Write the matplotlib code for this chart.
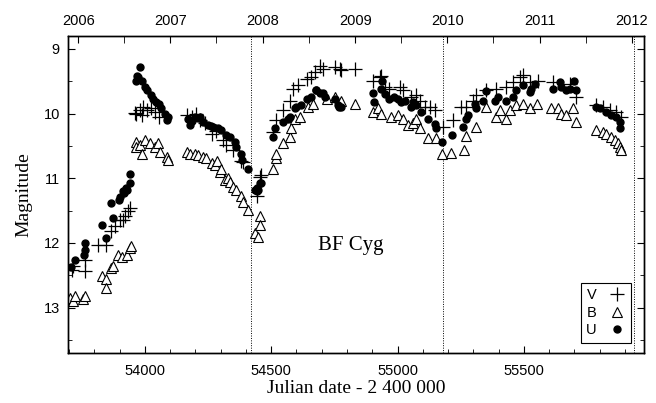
import matplotlib
matplotlib.use('Agg')
import matplotlib.pyplot as plt
from matplotlib.ticker import MultipleLocator, FixedLocator

# V band (+)
v_jd = [53710, 53716, 53763, 53763, 53815, 53848, 53868, 53881, 53901, 53914, 53921, 53934, 53941,
        53960, 53967, 53980, 53987, 53993, 54009, 54026, 54040, 54057,
        54165, 54185, 54204, 54220, 54240, 54264, 54280, 54310, 54323, 54349, 54382, 54388,
        54442, 54455, 54461,
        54508, 54521, 54547, 54574, 54587, 54606, 54640, 54659, 54672, 54692, 54705, 54752, 54771, 54775, 54830,
        54901, 54929, 54934, 54949, 54967, 55008, 55021, 55054, 55075, 55087, 55107, 55127, 55147, 55180, 55220,
        55252, 55272, 55299, 55312, 55351, 55391, 55431, 55457, 55484, 55497, 55523, 55556,
        55615, 55681, 55707,
        55787, 55813, 55839, 55866, 55885]
v_mag = [12.42, 12.35, 12.44, 12.27, 12.03, 12.03, 11.82, 11.74, 11.64, 11.64, 11.58, 11.51, 11.46,
         9.99, 10.0, 9.95, 10.03, 9.9, 9.95, 9.92, 9.97, 10.05,
         10.03, 10.05, 10.0, 10.1, 10.15, 10.31, 10.27, 10.41, 10.49, 10.56, 10.74, 10.75,
         11.28, 10.98, 10.95,
         10.28, 10.1, 9.95, 9.8, 9.62, 9.56, 9.46, 9.44, 9.36, 9.26, 9.31, 9.28, 9.31, 9.33, 9.31,
         9.49, 9.44, 9.42, 9.59, 9.62, 9.59, 9.64, 9.74, 9.72, 9.8, 9.9, 9.9, 9.95, 10.21, 10.1,
         9.9, 9.9, 9.8, 9.72, 9.64, 9.62, 9.59, 9.51, 9.44, 9.41, 9.51, 9.49,
         9.51, 9.54, 9.74,
         9.87, 9.9, 9.95, 9.98, 10.05]

# B band (open triangles)
b_jd = [53703, 53716, 53723, 53756, 53763, 53829, 53848, 53848, 53868, 53875, 53894, 53908, 53928, 53941, 53947,
        53967, 53967, 53980, 53987, 54000, 54020, 54040, 54053, 54059, 54086, 54092,
        54165, 54178, 54198, 54211, 54231, 54244, 54264, 54277, 54284, 54297, 54303, 54316, 54330, 54336,
        54349, 54362, 54382, 54389, 54409,
        54435, 54448, 54455, 54455,
        54508, 54521, 54521, 54547, 54574, 54580, 54593, 54613, 54646, 54666, 54719, 54752, 54778, 54830,
        54901, 54921, 54934, 54974, 55000, 55021, 55041, 55061, 55075, 55087, 55120, 55154, 55174, 55213, 55262,
        55272, 55312, 55351, 55391, 55404, 55431, 55444, 55470, 55497, 55523, 55550,
        55608, 55635, 55648, 55668, 55694, 55707,
        55787, 55813, 55826, 55846, 55859, 55872, 55879, 55885]
b_mag = [12.85, 12.9, 12.82, 12.87, 12.82, 12.51, 12.56, 12.69, 12.38, 12.35, 12.18, 12.21, 12.18, 12.08, 12.05,
         10.44, 10.52, 10.49, 10.62, 10.41, 10.46, 10.51, 10.46, 10.59, 10.67, 10.72,
         10.59, 10.62, 10.62, 10.64, 10.67, 10.69, 10.77, 10.8, 10.74, 10.9, 10.85, 11.03, 11.0, 11.05,
         11.13, 11.18, 11.28, 11.36, 11.49,
         11.85, 11.9, 11.59, 11.72,
         10.85, 10.69, 10.62, 10.46, 10.36, 10.23, 10.08, 10.05, 9.9, 9.85, 9.77, 9.74, 9.8, 9.85,
         9.98, 9.92, 10.0, 10.05, 10.03, 10.08, 10.18, 10.15, 10.08, 10.23, 10.38, 10.38, 10.62, 10.61, 10.56,
         10.35, 10.21, 9.9, 10.05, 9.95, 10.08, 9.95, 9.87, 9.85, 9.92, 9.85,
         9.92, 9.92, 10.0, 10.03, 9.92, 10.13,
         10.26, 10.28, 10.31, 10.36, 10.41, 10.46, 10.51, 10.56]

# U band (filled circles)
u_jd = [53707, 53723, 53760, 53762, 53763, 53831, 53848, 53866, 53875, 53898, 53901, 53914, 53918, 53924, 53928,
        53941, 53943,
        53967, 53970, 53974, 53980, 53987, 54000, 54007, 54024, 54033, 54046, 54055, 54066, 54079, 54088, 54092,
        54171, 54178, 54185, 54198, 54210, 54218, 54231, 54250, 54260, 54270, 54290, 54303, 54323, 54336, 54356,
        54362, 54382, 54386, 54409,
        54435, 54442, 54444, 54448, 54455, 54461,
        54508, 54514, 54547, 54567, 54574, 54593, 54600, 54620, 54640, 54659, 54676, 54679, 54692, 54705, 54712,
        54752, 54765, 54770, 54778,
        54901, 54907, 54934, 54938, 54950, 54967, 54985, 55000, 55015, 55030, 55054, 55061, 55075, 55094, 55120,
        55147, 55154, 55174, 55217,
        55259, 55272, 55279, 55305, 55312, 55338, 55351, 55384, 55398, 55431, 55457, 55470, 55497, 55523, 55530, 55543,
        55615, 55642, 55648, 55668, 55681, 55698, 55707,
        55787, 55800, 55826, 55846, 55866, 55879, 55879]
u_mag = [12.37, 12.27, 12.19, 12.11, 12.0, 11.72, 11.92, 11.38, 11.62, 11.34, 11.29, 11.2, 11.23, 11.15, 11.18,
         10.94, 11.07,
         9.49, 9.42, 9.44, 9.28, 9.49, 9.59, 9.64, 9.71, 9.77, 9.82, 9.85, 9.92, 10.0, 10.1, 10.05,
         10.08, 10.18, 10.12, 10.05, 10.07, 10.05, 10.13, 10.18, 10.2, 10.21, 10.23, 10.26, 10.33, 10.36, 10.44,
         10.51, 10.63, 10.72, 10.86,
         11.18, 11.2, 11.15, 11.18, 11.08, 11.08,
         10.36, 10.23, 10.13, 10.08, 10.05, 9.92, 9.9, 9.87, 9.78, 9.74, 9.63, 9.64, 9.69, 9.69, 9.74,
         9.77, 9.87, 9.9, 9.9,
         9.69, 9.82, 9.62, 9.49, 9.7, 9.77, 9.75, 9.77, 9.82, 9.8, 9.9, 9.82, 9.87, 9.98, 10.09,
         10.16, 10.22, 10.44, 10.33,
         10.21, 10.08, 10.03, 9.85, 9.92, 9.8, 9.65, 9.8, 9.74, 9.8, 9.74, 9.64, 9.56, 9.67, 9.62, 9.54,
         9.62, 9.51, 9.59, 9.64, 9.62, 9.5, 9.64,
         9.9, 9.92, 9.98, 10.03, 10.05, 10.13, 10.23]

minima = [54422, 55179, 55937]
years = [2006, 2007, 2008, 2009, 2010, 2011, 2012]
year_jd = [53736.5, 54101.5, 54466.5, 54832.5, 55197.5, 55562.5, 55927.5]
half_year_jd = [53918.5, 54283.5, 54648.5, 55014.5, 55379.5, 55744.5]

serif = 'Liberation Serif'
sans = 'Liberation Sans'

fig = plt.figure(figsize=(6.56, 4.03), dpi=100)
ax = fig.add_axes([0.104, 0.124, 0.878, 0.787])

for m in minima:
    ax.axvline(m, color='black', linestyle=(0, (1, 1.5)), linewidth=0.7, zorder=1)

ax.plot(b_jd, b_mag, linestyle='none', marker='^', markersize=7.5, markerfacecolor='white',
        markeredgecolor='black', markeredgewidth=0.8, label='B', zorder=2)
ax.plot(v_jd, v_mag, linestyle='none', marker='+', markersize=9.5, color='black',
        markeredgewidth=0.9, label='V', zorder=3)
ax.plot(u_jd, u_mag, linestyle='none', marker='o', markersize=5, color='black', label='U', zorder=4)

ax.set_xlim(53697, 55976)
ax.set_ylim(13.7, 8.8)
ax.xaxis.set_major_locator(MultipleLocator(500))
ax.xaxis.set_minor_locator(MultipleLocator(100))
ax.yaxis.set_major_locator(MultipleLocator(1))
ax.yaxis.set_minor_locator(MultipleLocator(0.5))
ax.tick_params(which='both', direction='in', top=False, right=True, labelsize=10.5)
ax.tick_params(which='major', length=5)
ax.tick_params(which='minor', length=3)
ax.tick_params(axis='x', pad=8)
ax.tick_params(axis='y', pad=6)
for lbl in ax.get_xticklabels() + ax.get_yticklabels():
    lbl.set_fontfamily(sans)

ax.set_xlabel('Julian date - 2 400 000', fontfamily=serif, fontsize=14, labelpad=1)
ax.set_ylabel('Magnitude', fontfamily=serif, fontsize=14, labelpad=8)
ax.text(0.49, 0.34, 'BF Cyg', transform=ax.transAxes, fontfamily=serif, fontsize=15,
        ha='center', va='center')

top = ax.twiny()
top.set_xlim(ax.get_xlim())
top.xaxis.set_major_locator(FixedLocator(year_jd))
top.xaxis.set_minor_locator(FixedLocator(half_year_jd))
top.set_xticklabels([str(y) for y in years], fontfamily=sans, fontsize=10.5)
top.tick_params(which='both', direction='in', length=5, pad=6)

for a in (ax, top):
    for s in a.spines.values():
        s.set_linewidth(1.0)

h, l = ax.get_legend_handles_labels()
order = [1, 0, 2]
leg = ax.legend([h[i] for i in order], [l[i] for i in order], loc='lower right',
                markerfirst=False, fancybox=False, edgecolor='black', framealpha=1,
                prop={'family': sans, 'size': 10.5}, handlelength=1.2, handletextpad=0.8,
                labelspacing=0.25, borderpad=0.35, bbox_to_anchor=(0.99, 0.01))
leg.get_frame().set_linewidth(0.8)

fig.savefig('out.png', dpi=100)
